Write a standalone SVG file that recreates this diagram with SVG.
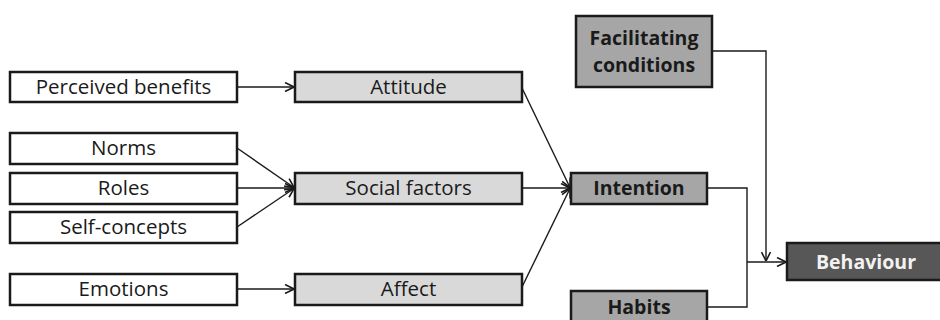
<svg xmlns="http://www.w3.org/2000/svg" width="940" height="320" viewBox="0 0 940 320">
<style>
.box{stroke:#1a1a1a;stroke-width:2.5}
.w{fill:#ffffff}
.l{fill:#d9d9d9}
.m{fill:#a6a6a6}
.d{fill:#575757}
.t{font-family:"Open Sans","Liberation Sans",sans-serif;font-size:20.5px;fill:#1a1a1a;text-anchor:middle}
.b{font-family:"Open Sans","Liberation Sans",sans-serif;font-size:19.5px;font-weight:bold;fill:#1a1a1a;text-anchor:middle}
.bw{fill:#f2f2f2}
.c{fill:none;stroke:#1a1a1a;stroke-width:1.4;marker-end:url(#ah)}
.n{fill:none;stroke:#1a1a1a;stroke-width:1.4}
</style>
<defs>
<marker id="ah" viewBox="0 0 10 10" refX="10" refY="5" markerWidth="10" markerHeight="10" markerUnits="userSpaceOnUse" orient="auto">
<path d="M1,0.5 L10,5 L1,9.5" fill="none" stroke="#1a1a1a" stroke-width="1.6"/>
</marker>
</defs>
<rect width="940" height="320" fill="#ffffff"/>
<g id="connectors">
<line class="c" x1="237" y1="87" x2="294" y2="87"/>
<line class="c" x1="237" y1="148" x2="294" y2="187.5"/>
<line class="c" x1="237" y1="188" x2="294" y2="188"/>
<line class="c" x1="237" y1="227" x2="294" y2="188.5"/>
<line class="c" x1="237" y1="289" x2="294" y2="289"/>
<line class="c" x1="522" y1="88" x2="570" y2="187.5"/>
<line class="c" x1="522" y1="188" x2="570" y2="188"/>
<line class="c" x1="522" y1="287" x2="570" y2="188.5"/>
<polyline class="n" points="707,188 747,188 747,307 707,307"/>
<line class="c" x1="747" y1="262" x2="786" y2="262"/>
<polyline class="c" points="712,51 766,51 766,261"/>
</g>
<g id="perceived-benefits"><rect class="box w" x="10" y="72" width="227" height="30"/><text class="t" x="123.5" y="94">Perceived benefits</text></g>
<g id="norms"><rect class="box w" x="10" y="133" width="227" height="31"/><text class="t" x="123.5" y="155">Norms</text></g>
<g id="roles"><rect class="box w" x="10" y="173" width="227" height="31"/><text class="t" x="123.5" y="195">Roles</text></g>
<g id="self-concepts"><rect class="box w" x="10" y="212" width="227" height="31"/><text class="t" x="123.5" y="234">Self-concepts</text></g>
<g id="emotions"><rect class="box w" x="10" y="274" width="227" height="31"/><text class="t" x="123.5" y="296">Emotions</text></g>
<g id="attitude"><rect class="box l" x="295" y="72" width="227" height="30"/><text class="t" x="408.5" y="94">Attitude</text></g>
<g id="social-factors"><rect class="box l" x="295" y="173" width="227" height="31"/><text class="t" x="408.5" y="195">Social factors</text></g>
<g id="affect"><rect class="box l" x="295" y="274" width="227" height="31"/><text class="t" x="408.5" y="296">Affect</text></g>
<g id="facilitating-conditions"><rect class="box m" x="576" y="16" width="136" height="71"/><text class="b" x="644" y="45">Facilitating</text><text class="b" x="644" y="72">conditions</text></g>
<g id="intention"><rect class="box m" x="571" y="173" width="136" height="31"/><text class="b" x="639" y="195">Intention</text></g>
<g id="habits"><rect class="box m" x="571" y="291" width="136" height="40"/><text class="b" x="639" y="314">Habits</text></g>
<g id="behaviour"><rect class="box d" x="787" y="243" width="156" height="37"/><text class="b bw" x="866" y="269">Behaviour</text></g>
</svg>
